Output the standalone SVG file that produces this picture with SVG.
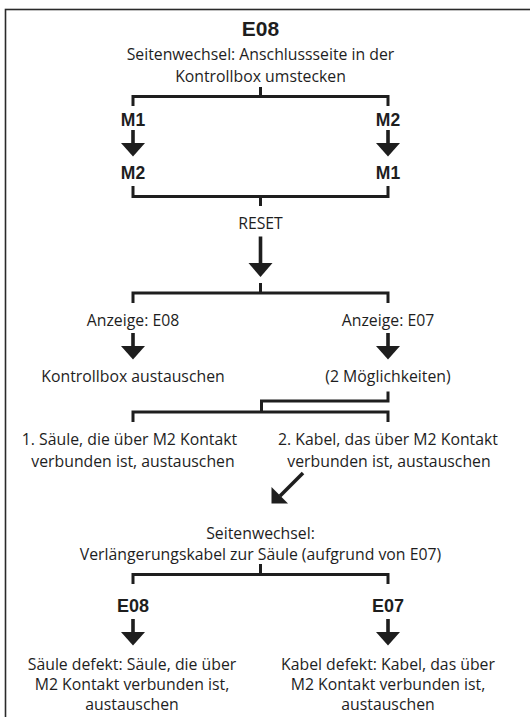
<svg xmlns="http://www.w3.org/2000/svg" xmlns:xlink="http://www.w3.org/1999/xlink" width="530" height="717" viewBox="0 0 530 717">
<style>
.t{font-family:"Open Sans","Liberation Sans",sans-serif;font-size:15.8px;fill:#1e1e1e;text-anchor:middle}
.b{font-family:"Liberation Sans",Arial,sans-serif;font-weight:bold;fill:#1e1e1e;text-anchor:middle}
.ln{fill:none;stroke:#1e1e1e;stroke-width:3;stroke-linejoin:miter;stroke-linecap:butt}
.ah{fill:#1e1e1e;stroke:none}
.frame{fill:none;stroke:#2a2a2a;stroke-width:1.6}
</style>
<defs>
<g id="dn">
<rect class="ah" x="-1.8" y="0" width="3.6" height="14"/>
<polygon class="ah" points="-12,13 12,13 0,26.5"/>
</g>
</defs>
<rect width="530" height="717" fill="#ffffff"/>
<rect class="frame" x="5.5" y="9.5" width="540" height="720"/>

<g id="connectors">
<path class="ln" d="M260.5,87 V96.5 M133,106 V96.5 H388 V106"/>
<use xlink:href="#dn" href="#dn" x="133" y="130"/>
<use xlink:href="#dn" href="#dn" x="388" y="130"/>
<path class="ln" d="M133,186 V196.5 H388 V186 M260.5,196.5 V206"/>
<rect class="ah" x="258.7" y="236.5" width="3.6" height="28"/>
<polygon class="ah" points="248.5,263 272.5,263 260.5,277"/>
<path class="ln" d="M260.5,283 V293 M133,303 V293 H388 V303"/>
<use xlink:href="#dn" href="#dn" x="133" y="333"/>
<use xlink:href="#dn" href="#dn" x="388" y="333"/>
<path class="ln" d="M388,391.5 V401 H261.5 V412 M133,422 V412 H388 V422"/>
<path class="ln" d="M303,473 L280,496" style="stroke-width:3.6"/>
<polygon class="ah" points="271.5,503.5 271.5,487 288,503.5"/>
<path class="ln" d="M260.5,564 V574.5 M133,584 V574.5 H388 V584"/>
<use xlink:href="#dn" href="#dn" x="133" y="619"/>
<use xlink:href="#dn" href="#dn" x="388" y="619"/>
</g>

<g id="n-title">
<text class="b" x="260.5" y="36" font-size="21">E08</text>
<text class="t" x="260.5" y="60">Seitenwechsel: Anschlussseite in der</text>
<text class="t" x="260.5" y="82">Kontrollbox umstecken</text>
</g>
<g id="n-m1-left"><text class="b" x="133" y="125.5" font-size="17.5">M1</text></g>
<g id="n-m2-right"><text class="b" x="388" y="125.5" font-size="17.5">M2</text></g>
<g id="n-m2-left"><text class="b" x="133" y="179" font-size="17.5">M2</text></g>
<g id="n-m1-right"><text class="b" x="388" y="179" font-size="17.5">M1</text></g>
<g id="n-reset"><text class="t" x="260.5" y="229">RESET</text></g>
<g id="n-anz-e08"><text class="t" x="133" y="326">Anzeige: E08</text></g>
<g id="n-anz-e07"><text class="t" x="388" y="326">Anzeige: E07</text></g>
<g id="n-kontrollbox"><text class="t" x="133" y="381.5">Kontrollbox austauschen</text></g>
<g id="n-moeglichkeiten"><text class="t" x="388" y="381.5">(2 Möglichkeiten)</text></g>
<g id="n-opt1">
<text class="t" x="129.5" y="445">1. Säule, die über M2 Kontakt</text>
<text class="t" x="133" y="466.5">verbunden ist, austauschen</text>
</g>
<g id="n-opt2">
<text class="t" x="388" y="445">2. Kabel, das über M2 Kontakt</text>
<text class="t" x="389" y="466.5">verbunden ist, austauschen</text>
</g>
<g id="n-seitenwechsel2">
<text class="t" x="260.5" y="538.5">Seitenwechsel:</text>
<text class="t" x="260.5" y="560">Verlängerungskabel zur Säule (aufgrund von E07)</text>
</g>
<g id="n-e08"><text class="b" x="133" y="612" font-size="18">E08</text></g>
<g id="n-e07"><text class="b" x="388" y="612" font-size="18">E07</text></g>
<g id="n-saeule-defekt">
<text class="t" x="132" y="669.5">Säule defekt: Säule, die über</text>
<text class="t" x="132" y="689.5">M2 Kontakt verbunden ist,</text>
<text class="t" x="132" y="709.5">austauschen</text>
</g>
<g id="n-kabel-defekt">
<text class="t" x="388" y="669.5">Kabel defekt: Kabel, das über</text>
<text class="t" x="388" y="689.5">M2 Kontakt verbunden ist,</text>
<text class="t" x="388" y="709.5">austauschen</text>
</g>
</svg>
